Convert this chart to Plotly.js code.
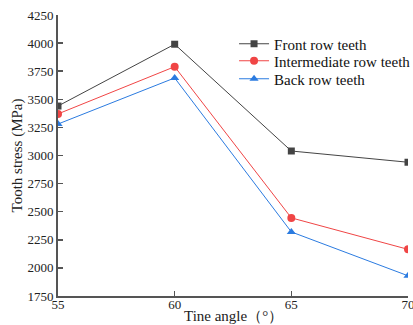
<!DOCTYPE html>
<html><head><meta charset="utf-8">
<script src="https://cdn.plot.ly/plotly-3.0.1.min.js"></script>
<style>html,body{margin:0;padding:0;background:#fff}#c{width:413px;height:325px}</style>
</head><body><div id="c"></div>
<script>
const angles = [55, 60, 65, 70];
const frontRow = [3440, 3990, 3040, 2940];
const intermediateRow = [3370, 3790, 2445, 2165];
const backRow = [3280, 3690, 2320, 1930];
const yTicks = [1750, 2000, 2250, 2500, 2750, 3000, 3250, 3500, 3750, 4000, 4250];
const xTitle = 'Tine angle（°）';

const traces = [
  {x: angles, y: frontRow, name: 'Front row teeth', mode: 'lines+markers', legend: 'legend',
   line: {color: '#444444', width: 1}, marker: {symbol: 'square', size: 7, color: '#444444'}},
  {x: angles, y: intermediateRow, name: 'Intermediate row teeth', mode: 'lines+markers', legend: 'legend2',
   line: {color: '#f04545', width: 1}, marker: {symbol: 'circle', size: 8, color: '#f04545'}},
  {x: angles, y: backRow, name: 'Back row teeth', mode: 'lines+markers', legend: 'legend3',
   line: {color: '#2b7be0', width: 1}, marker: {symbol: 'triangle-up', size: 8, color: '#2b7be0'}}
];
const ff = '"Liberation Serif", "Times New Roman", serif';
const font = {family: ff, color: '#222', size: 13};
function leg(yy) {
  return {x: 0.503, y: yy, xanchor: 'left', yanchor: 'middle', bgcolor: 'rgba(0,0,0,0)',
          font: {family: ff, size: 15, color: '#111'}, itemwidth: 30};
}
// plot top 15, height 281; rows at y px 44, 61, 79
const layout = {
  width: 413, height: 325,
  margin: {l: 58, r: 5, t: 15, b: 29, autoexpand: false},
  paper_bgcolor: '#fff', plot_bgcolor: '#fff',
  font: font,
  showlegend: true,
  legend: leg(1 - (44 - 15) / 281),
  legend2: leg(1 - (61 - 15) / 281),
  legend3: leg(1 - (79 - 15) / 281),
  annotations: [{text: xTitle, xref: 'paper', yref: 'paper', x: 0.5, y: -(316 - 296) / 281,
                 xanchor: 'center', yanchor: 'middle', showarrow: false,
                 font: {family: ff, size: 15, color: '#222'}}],
  xaxis: {range: [55, 70], tickvals: angles, ticks: 'inside', ticklen: 5, tickwidth: 1.5, tickcolor: '#555',
          showline: true, linecolor: '#555', linewidth: 2, showgrid: false, zeroline: false,
          ticklabeloverflow: 'allow', ticklabelstandoff: -5, automargin: false,
          tickfont: {family: ff, size: 13, color: '#222'}},
  yaxis: {range: [1750, 4250], tickvals: yTicks, ticks: 'inside', ticklen: 5, tickwidth: 1.5, tickcolor: '#555',
          showline: true, linecolor: '#555', linewidth: 2, showgrid: false, zeroline: false,
          ticklabeloverflow: 'allow', automargin: false,
          tickfont: {family: ff, size: 13, color: '#222'},
          title: {text: 'Tooth stress (MPa)', font: {family: ff, size: 15, color: '#222'}, standoff: 1}}
};
Plotly.newPlot('c', traces, layout, {displayModeBar: false, staticPlot: true});
</script></body></html>
